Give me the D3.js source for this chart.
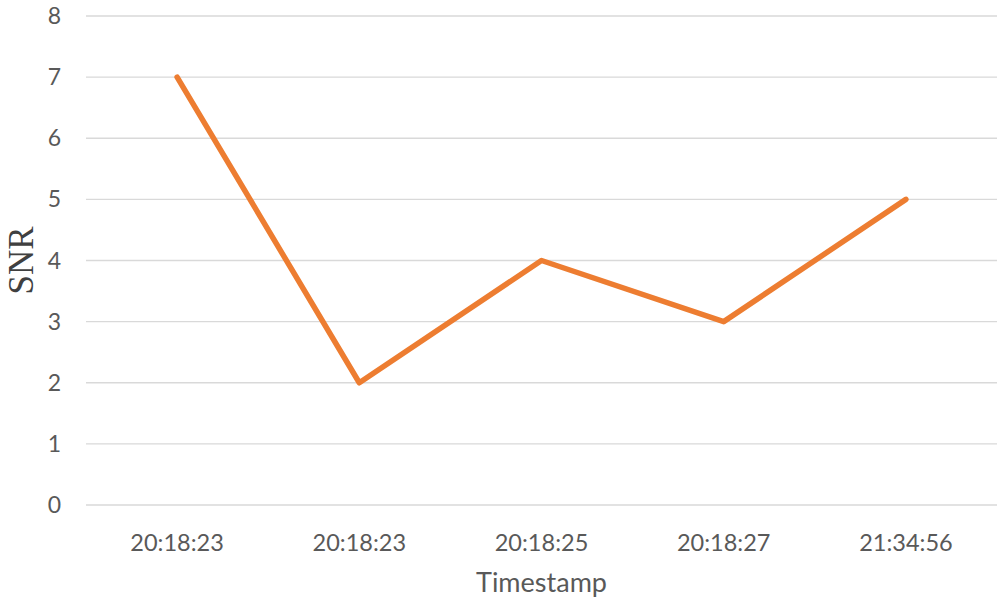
<!DOCTYPE html>
<html>
<head>
<meta charset="utf-8">
<script src="https://cdn.jsdelivr.net/npm/d3@7"></script>
<style>
  body { margin: 0; background: #fff; }
  svg text { font-family: Lato, "Open Sans", sans-serif; }
</style>
</head>
<body>
<div id="drawarea"></div>
<script>
// chart data
const timestamps = ["20:18:23", "20:18:23", "20:18:25", "20:18:27", "21:34:56"];
const snrValues = [7, 2, 4, 3, 5];
const yTicks = [0, 1, 2, 3, 4, 5, 6, 7, 8];

const width = 1003, height = 605;
const margin = {top: 16, right: 6, bottom: 100, left: 86};

let svg = d3.select("div#drawarea").append("svg")
    .attr("width", width)
    .attr("height", height);

// band scale so each label sits in the middle of its slot, like Excel
let x = d3.scaleBand()
    .domain(d3.range(timestamps.length))
    .range([margin.left, width - margin.right]);

let y = d3.scaleLinear()
    .domain([0, 8])
    .range([height - margin.bottom, margin.top]);

// gridlines
svg.append("g")
    .selectAll("line")
    .data(yTicks)
    .join("line")
    .attr("x1", margin.left)
    .attr("x2", width - margin.right)
    .attr("y1", d => y(d))
    .attr("y2", d => y(d))
    .attr("stroke", "#d9d9d9")
    .attr("stroke-width", 1.3);

// y tick labels
svg.append("g")
    .selectAll("text")
    .data(yTicks)
    .join("text")
    .attr("x", 61)
    .attr("y", d => y(d))
    .attr("dy", "0.35em")
    .attr("text-anchor", "end")
    .attr("font-size", 23)
    .attr("fill", "#595959")
    .text(d => d);

// x tick labels
svg.append("g")
    .selectAll("text")
    .data(timestamps)
    .join("text")
    .attr("x", (d, i) => x(i) + x.bandwidth() / 2)
    .attr("y", 543)
    .attr("dy", "0.35em")
    .attr("text-anchor", "middle")
    .attr("font-size", 23.5)
    .attr("fill", "#595959")
    .text(d => d);

// the line itself
let line = d3.line()
    .x((d, i) => x(i) + x.bandwidth() / 2)
    .y(d => y(d));

svg.append("path")
    .datum(snrValues)
    .attr("d", line)
    .attr("fill", "none")
    .attr("stroke", "#ed7d31")
    .attr("stroke-width", 5.5)
    .attr("stroke-linecap", "round")
    .attr("stroke-linejoin", "round");

// axis titles
svg.append("text")
    .attr("x", (margin.left + width - margin.right) / 2)
    .attr("y", 583)
    .attr("dy", "0.35em")
    .attr("text-anchor", "middle")
    .attr("font-size", 27)
    .attr("fill", "#595959")
    .text("Timestamp");

svg.append("text")
    .attr("transform", "translate(21," + y(4) + ") rotate(-90)")
    .attr("text-anchor", "middle")
    .attr("dy", "0.35em")
    .attr("font-size", 35)
    .attr("fill", "#404040")
    .style("font-family", "'Liberation Serif', 'Times New Roman', serif")
    .text("SNR");
</script>
</body>
</html>
